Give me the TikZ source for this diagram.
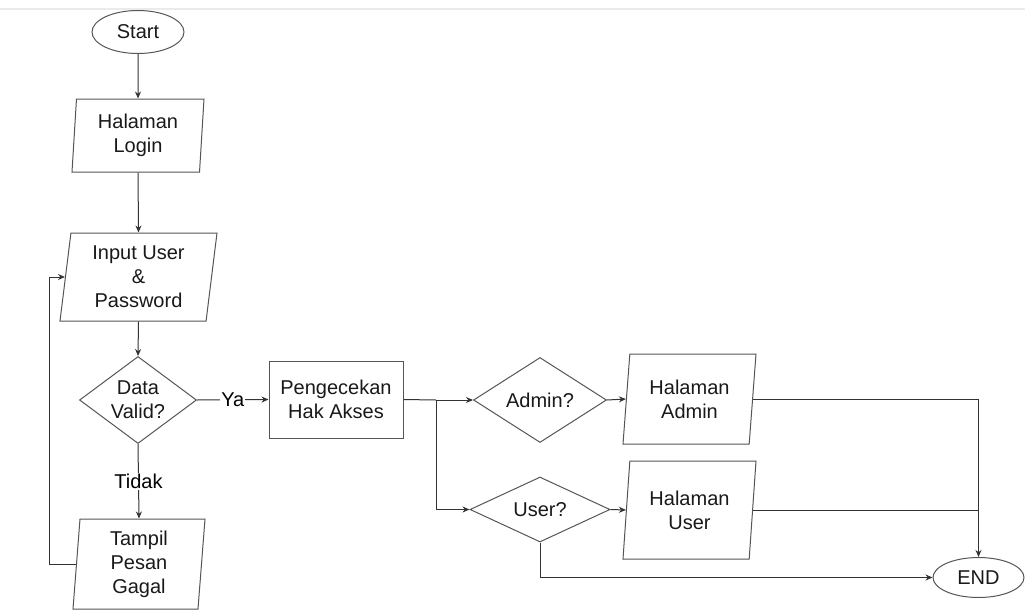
\documentclass[tikz,border=0pt]{standalone}
\usepackage{fontspec}
\setmainfont{Liberation Sans}
\usetikzlibrary{shapes.geometric,arrows.meta}

\definecolor{edge}{HTML}{555555}
\definecolor{wire}{HTML}{333333}
\definecolor{rule}{HTML}{EBEBEB}

\tikzset{
  box/.style={draw=edge, line width=1pt, inner sep=0pt, align=center,
    font=\fontsize{20}{24}\selectfont, text=black!90},
  terminal/.style={box, ellipse},
  io/.style={box, trapezium, trapezium stretches body,
    trapezium left angle=80, trapezium right angle=100},
  process/.style={box, rectangle},
  decision/.style={box, diamond},
  flow/.style={draw=wire, line width=1pt, -{Stealth[length=7pt,width=6pt]}},
  link/.style={draw=wire, line width=1pt},
  tag/.style={fill=white, inner sep=1pt, font=\fontsize{20}{24}\selectfont}
}

\begin{document}
\begin{tikzpicture}[x=1pt, y=-1pt]
  \useasboundingbox (0,0) rectangle (1025,610);

  % thin rule along the top
  \draw[rule, line width=2pt] (0,9) -- (1025,9);

  % login column
  \node[terminal, minimum width=92, minimum height=43] (start) at (138,32) {Start};
  \node[io, trapezium left angle=84, trapezium right angle=96,
        minimum width=132, minimum height=73] (login) at (138,135.5) {Halaman\\Login};
  \node[io, minimum width=157, minimum height=88] (input) at (138.5,277) {Input User\\\&\\Password};
  \node[decision, shape aspect=1.345, minimum width=117, minimum height=87] (valid) at (138,400) {Data\\Valid?};
  \node[io, trapezium left angle=84, trapezium right angle=96,
        minimum width=132, minimum height=90] (fail) at (139,564) {Tampil\\Pesan\\Gagal};

  % access check
  \node[process, minimum width=134, minimum height=77] (check) at (336,399.5) {Pengecekan\\Hak Akses};
  \coordinate (split) at (436,400);

  % role branches
  \node[decision, shape aspect=1.56, minimum width=133, minimum height=85] (isadmin) at (540,400) {Admin?};
  \node[decision, shape aspect=2.15, minimum width=140, minimum height=65] (isuser) at (540,509.5) {User?};
  \node[io, minimum width=133, minimum height=90] (adminpage) at (689.5,399) {Halaman\\Admin};
  \node[io, minimum width=133, minimum height=98] (userpage) at (689.5,510) {Halaman\\User};

  % end
  \node[terminal, minimum width=91, minimum height=40] (end) at (978.5,577.5) {END};

  % connectors
  \draw[flow] (start.south) -- (login.north);
  \draw[flow] (login.south) -- (input.north);
  \draw[flow] (input.south) -- (valid.north);
  \draw[flow] (valid.east) -- node[tag] {Ya} (check.west);
  \draw[flow] (valid.south) -- node[tag] {Tidak} (fail.north);
  \draw[flow] (fail.west) -- ++(-27,0) |- (input.west);

  \draw[link] (check.east) -- (split);
  \draw[flow] (split) -- (isadmin.west);
  \draw[flow] (split) |- (isuser.west);
  \draw[flow] (isadmin.east) -- (adminpage.west);
  \draw[flow] (isuser.east) -- (userpage.west);

  \draw[flow] (adminpage.east) -| (end.north);
  \draw[link] (userpage.east) -- (userpage.east -| end.north);
  \draw[flow] (isuser.south) |- (end.west);
\end{tikzpicture}
\end{document}
